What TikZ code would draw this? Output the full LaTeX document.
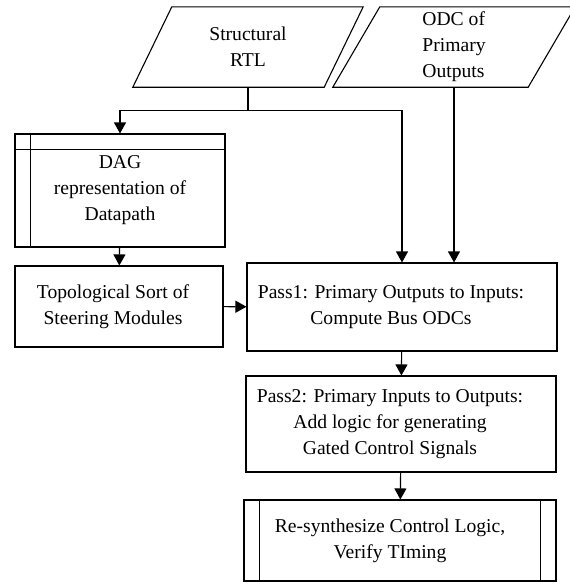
\documentclass[tikz,border=0pt]{standalone}
\usepackage{fontspec}
\setmainfont{Liberation Serif}
\usetikzlibrary{arrows.meta,calc}

\tikzset{
  flowbox/.style={draw, rectangle, line width=1.1pt, align=center, inner sep=0pt},
  boxtext/.style={align=center, inner sep=0pt, xshift=#1},
  boxtext/.default=-11pt,
  iobox/.style={rectangle, inner sep=0pt},
  flowarrow/.style={line width=1.1pt, -{Triangle[length=11pt,width=12pt]}}
}

\begin{document}
\begin{tikzpicture}[x=1pt,y=1pt,font=\fontsize{19.6}{26}\selectfont]
  \useasboundingbox (0,0) rectangle (570,-582);

  % inputs
  \node[iobox, align=center, minimum width=191pt, minimum height=80pt] (srtl) at (248,-47) {Structural\\RTL};
  \draw[line width=1.1pt] ($(srtl.south west)+(-19.5,0)$) -- ($(srtl.south east)+(-19.5,0)$)
    -- ($(srtl.north east)+(19.5,0)$) -- ($(srtl.north west)+(19.5,0)$) -- cycle;
  \node[iobox, align=left, minimum width=195pt, minimum height=80pt] (odc) at (454,-47) {ODC of\\Primary\\Outputs};
  \draw[line width=1.1pt] ($(odc.south west)+(-23.5,0)$) -- ($(odc.south east)+(-23.5,0)$)
    -- ($(odc.north east)+(23.5,0)$) -- ($(odc.north west)+(23.5,0)$) -- cycle;

  % left column
  \node[flowbox, minimum width=210pt, minimum height=113pt] (dag) at (120,-190.5) {DAG\\representation of\\Datapath};
  \draw[line width=1.1pt] ($(dag.north west)+(0,-16)$) -- ($(dag.north east)+(0,-16)$);
  \draw[line width=1.1pt] ($(dag.north west)+(16,0)$) -- ($(dag.south west)+(16,0)$);
  \node[flowbox, minimum width=208pt, minimum height=81pt,
    label={[boxtext=-6pt]center:{Topological Sort of\\Steering Modules}}] (topo) at (119,-306.5) {};

  % right column
  \node[flowbox, minimum width=310pt, minimum height=88pt,
    label={[boxtext]center:{Pass1: Primary Outputs to Inputs:\\Compute Bus ODCs}}] (pass1) at (402,-307) {};
  \node[flowbox, minimum width=310pt, minimum height=96pt,
    label={[boxtext]center:{Pass2: Primary Inputs to Outputs:\\Add logic for generating\\Gated Control Signals}}] (pass2) at (401,-424) {};
  \node[flowbox, minimum width=312pt, minimum height=81pt,
    label={[boxtext=-10pt]center:{Re-synthesize Control Logic,\\Verify TIming}}] (resyn) at (400,-540.5) {};
  \draw[line width=1.1pt] ($(resyn.north west)+(16,0)$) -- ($(resyn.south west)+(16,0)$);
  \draw[line width=1.1pt] ($(resyn.north east)+(-16,0)$) -- ($(resyn.south east)+(-16,0)$);

  % connectors
  \coordinate (split) at ($(srtl.south)+(0,-23)$);
  \draw[line width=1.1pt] (srtl.south) -- (split);
  \draw[flowarrow] (split) -| (dag.north);
  \draw[flowarrow] (split) -| (pass1.north);
  \draw[flowarrow] (odc.south) -- (odc.south |- pass1.north);
  \draw[flowarrow] (dag) -- (topo);
  \draw[flowarrow] (topo) -- (pass1);
  \draw[flowarrow] (pass1) -- (pass2);
  \draw[flowarrow] (pass2) -- (resyn);
\end{tikzpicture}
\end{document}
